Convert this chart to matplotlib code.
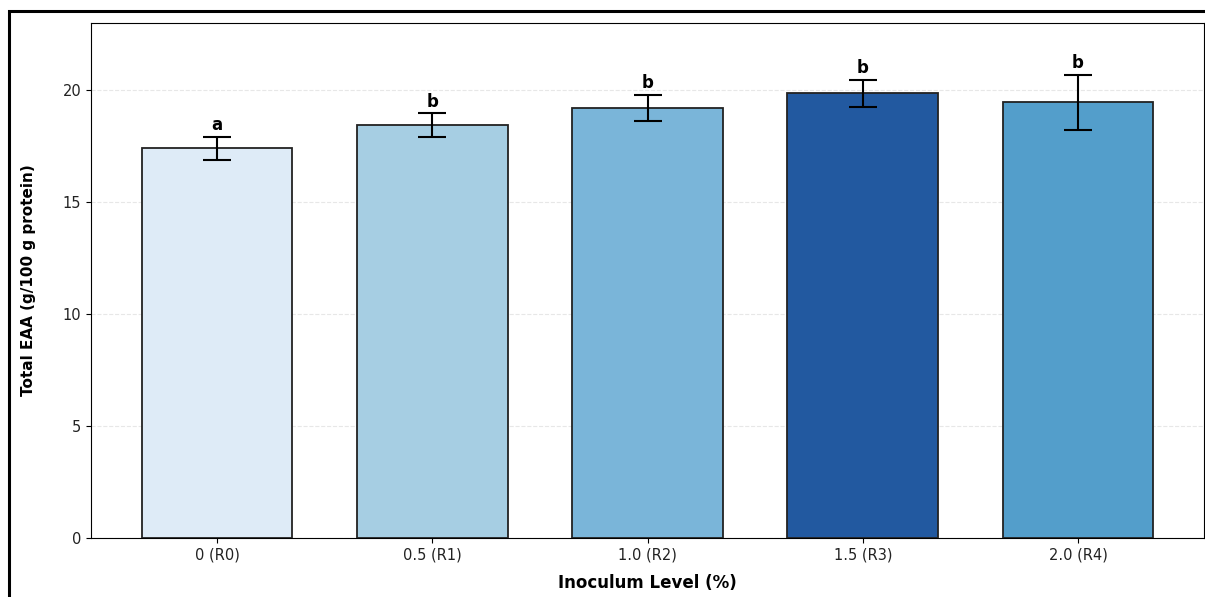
import matplotlib
matplotlib.use("Agg")
import matplotlib.pyplot as plt
from matplotlib.patches import Rectangle
import numpy as np

plt.rcParams["font.family"] = ["DejaVu Sans"]

# inoculum levels and total essential amino acids
levels = ["0 (R0)", "0.5 (R1)", "1.0 (R2)", "1.5 (R3)", "2.0 (R4)"]
eaa = [17.4, 18.44, 19.2, 19.87, 19.46]
sd = [0.52, 0.53, 0.58, 0.6, 1.23]
letters = ["a", "b", "b", "b", "b"]
colors = ["#deebf7", "#a6cee3", "#7ab5d9", "#2259a0", "#539ecb"]

fig = plt.figure(figsize=(12.05, 5.97), dpi=100)
ax = fig.add_axes([91/1205, 1 - 538/597, (1204 - 91)/1205, (538 - 23)/597])

x = np.arange(len(levels))
ax.bar(x, eaa, width=0.7, color=colors, edgecolor="#222222", linewidth=1.3,
       yerr=sd, capsize=10, error_kw=dict(elinewidth=1.5, capthick=1.5, ecolor="black"),
       zorder=3)

for xi, v, e, lab in zip(x, eaa, sd, letters):
    ax.text(xi, v + e + 0.12, lab, ha="center", va="bottom",
            fontsize=12, fontweight="bold")

ax.set_ylim(0, 23)
ax.set_xticks(x)
ax.set_xticklabels(levels, fontsize=10.5, color="#222222")
ax.tick_params(axis="y", labelsize=10.5, labelcolor="#222222")
ax.set_yticks([0, 5, 10, 15, 20])
ax.yaxis.grid(True, linestyle="--", color="#dddddd", linewidth=0.8, alpha=0.7)
ax.set_axisbelow(True)

ax.set_xlabel("Inoculum Level (%)", fontsize=12, fontweight="bold", labelpad=8)
ax.set_ylabel("Total EAA (g/100 g protein)", fontsize=11, fontweight="bold", labelpad=19)

# outer frame of the screenshot
fig.patches.append(Rectangle((9/1205, -0.2), 1.2, 1 - 11/597 + 0.2,
                             transform=fig.transFigure, fill=False,
                             edgecolor="black", linewidth=2.2))

fig.savefig("out.png", dpi=100)
